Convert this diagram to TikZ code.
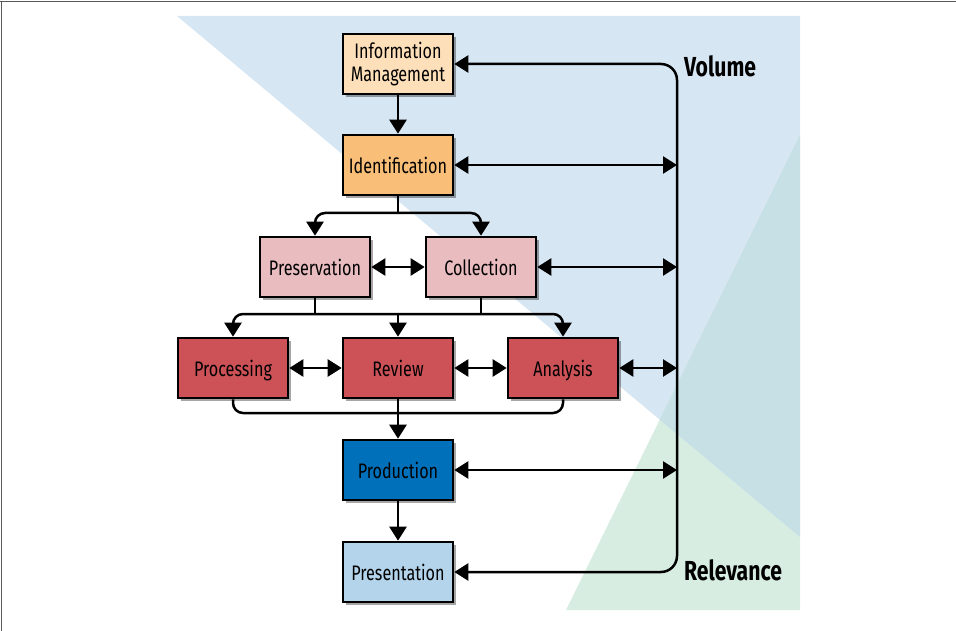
\documentclass[tikz,border=0pt]{standalone}
\usepackage{fontspec}
\setmainfont[FakeStretch=0.77]{Fira Sans}
\usetikzlibrary{arrows.meta,shadows}

\definecolor{bgblue}{HTML}{D7E6F3}
\definecolor{bggreen}{HTML}{D8EDE2}
\definecolor{bgteal}{HTML}{C7E0E6}
\definecolor{cinfo}{HTML}{FDDFB9}
\definecolor{cident}{HTML}{F9BF78}
\definecolor{cpink}{HTML}{E9BCC0}
\definecolor{cred}{HTML}{CD5257}
\definecolor{cprod}{HTML}{0070BA}
\definecolor{cpres}{HTML}{B3D4EA}

\tikzset{
  stagebox/.style={draw=black, line width=2.6pt, minimum width=110pt,
    minimum height=60pt, inner sep=0pt, align=center,
    font=\fontsize{21}{23}\selectfont,
    drop shadow={shadow xshift=3pt, shadow yshift=-3pt, opacity=0.35, fill=black}},
  oneline/.style={text height=19pt, text depth=2pt},
  link/.style={line width=2.5pt, rounded corners=10pt},
  sidelabel/.style={anchor=west, inner sep=0pt, font=\bfseries\fontsize{27.5}{30}\selectfont},
  >={Triangle[width=17pt,length=14pt]}
}

\begin{document}
\begin{tikzpicture}[x=1pt,y=-1pt]
\useasboundingbox (0,0) rectangle (956,631);

% page frame
\draw[gray!70!black, line width=1pt] (0,2) -- (956,2);
\draw[gray!70!black, line width=1pt] (1.5,2) -- (1.5,631);

% background wedges
\fill[bgblue] (177,16) -- (800,16) -- (800,537) -- cycle;
\fill[bggreen] (800,135) -- (800,610) -- (566,610) -- cycle;
\begin{scope}
  \clip (177,16) -- (800,16) -- (800,537) -- cycle;
  \fill[bgteal] (800,135) -- (800,610) -- (566,610) -- cycle;
\end{scope}

% stages
\node[stagebox, fill=cinfo]          (info)  at (398,64)  {Information\\Management};
\node[stagebox, oneline, fill=cident] (ident) at (398,165) {Identification};
\node[stagebox, oneline, fill=cpink]  (pres)  at (315,267) {Preservation};
\node[stagebox, oneline, fill=cpink]  (coll)  at (481,267) {Collection};
\node[stagebox, oneline, fill=cred]   (proc)  at (233,368) {Processing};
\node[stagebox, oneline, fill=cred]   (rev)   at (398,368) {Review};
\node[stagebox, oneline, fill=cred]   (anal)  at (563,368) {Analysis};
\node[stagebox, oneline, fill=cprod]  (prod)  at (398,470) {Production};
\node[stagebox, oneline, fill=cpres]  (prsn)  at (398,572) {Presentation};

% side labels
\node[sidelabel] (vol) at (684,66)  {Volume};
\node[sidelabel] (rel) at (684,570) {Relevance};

% junction points
\coordinate (s1) at (398,213);
\coordinate (s2) at (398,314);
\coordinate (s3) at (398,413);
\coordinate (rbus) at (677,320);

% main flow
\draw[link,->] (info) -- (ident);
\draw[link] (ident.south) -- (s1);
\draw[link,->] (s1) -| (pres.north);
\draw[link,->] (s1) -| (coll.north);
\draw[link,<->] (pres) -- (coll);

\draw[link] (pres.south) -- (pres.south |- s2);
\draw[link] (coll.south) -- (coll.south |- s2);
\draw[link,->] (s2) -| (proc.north);
\draw[link,->] (s2) -| (anal.north);
\draw[link,->] (s2) -- (rev.north);
\draw[link,<->] (proc) -- (rev);
\draw[link,<->] (rev) -- (anal);

\draw[link] (proc.south) |- (s3);
\draw[link] (anal.south) |- (s3);
\draw[link,->] (rev.south) -- (prod.north);
\draw[link,->] (prod) -- (prsn);

% volume / relevance bus
\draw[link,rounded corners=16pt,<->] (info.east) -| (rbus) |- (prsn.east);
\draw[link,<->] (ident.east) -- (ident.east -| rbus);
\draw[link,<->] (coll.east) -- (coll.east -| rbus);
\draw[link,<->] (anal.east) -- (anal.east -| rbus);
\draw[link,<->] (prod.east) -- (prod.east -| rbus);
\end{tikzpicture}
\end{document}
